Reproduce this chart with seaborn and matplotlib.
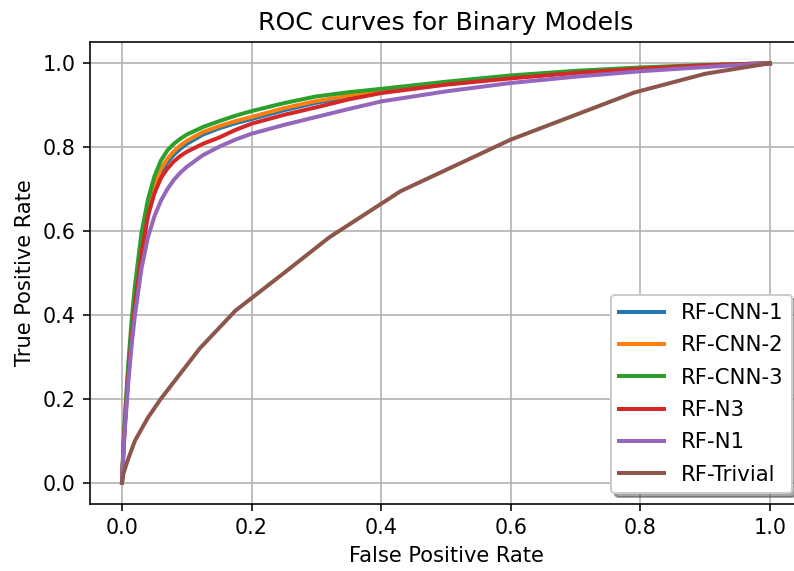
import numpy as np
import pandas as pd
import matplotlib
matplotlib.use("Agg")
import matplotlib.pyplot as plt
import seaborn as sns

models = ["RF-CNN-1", "RF-CNN-2", "RF-CNN-3", "RF-N3", "RF-N1", "RF-Trivial"]

fpr_grid = [0, 0.0025, 0.005, 0.01, 0.015, 0.02, 0.03, 0.04, 0.05, 0.06, 0.07, 0.08,
            0.09, 0.1, 0.125, 0.15, 0.175, 0.2, 0.25, 0.3, 0.35, 0.4, 0.5, 0.6,
            0.7, 0.8, 0.9, 1.0]

tpr_cnn1 = [0, 0.09, 0.155, 0.27, 0.36, 0.44, 0.565, 0.645, 0.70, 0.74, 0.764, 0.782,
            0.796, 0.808, 0.83, 0.845, 0.857, 0.867, 0.888, 0.906, 0.92, 0.932, 0.95,
            0.966, 0.978, 0.988, 0.995, 1.0]
tpr_cnn2 = [0, 0.095, 0.16, 0.275, 0.37, 0.45, 0.575, 0.655, 0.71, 0.748, 0.772, 0.79,
            0.804, 0.815, 0.836, 0.85, 0.862, 0.872, 0.893, 0.91, 0.923, 0.934, 0.952,
            0.967, 0.979, 0.988, 0.995, 1.0]
tpr_cnn3 = [0, 0.10, 0.17, 0.29, 0.39, 0.47, 0.595, 0.675, 0.73, 0.768, 0.792, 0.808,
            0.82, 0.83, 0.848, 0.862, 0.875, 0.886, 0.905, 0.921, 0.931, 0.939, 0.956,
            0.971, 0.982, 0.99, 0.996, 1.0]
tpr_n3 = [0, 0.085, 0.15, 0.26, 0.345, 0.42, 0.545, 0.635, 0.69, 0.726, 0.749, 0.766,
          0.779, 0.789, 0.808, 0.823, 0.841, 0.856, 0.877, 0.895, 0.914, 0.929, 0.949,
          0.964, 0.977, 0.987, 0.995, 1.0]
tpr_n1 = [0, 0.08, 0.14, 0.245, 0.33, 0.40, 0.51, 0.585, 0.635, 0.672, 0.70, 0.722,
          0.739, 0.753, 0.781, 0.801, 0.818, 0.832, 0.853, 0.872, 0.891, 0.909, 0.933,
          0.953, 0.968, 0.981, 0.991, 1.0]

fpr_trivial = [0, 0.002, 0.008, 0.02, 0.04, 0.06, 0.09, 0.12, 0.175, 0.25, 0.32, 0.43,
               0.6, 0.79, 0.9, 1.0]
tpr_trivial = [0, 0.02, 0.05, 0.10, 0.155, 0.20, 0.26, 0.32, 0.41, 0.50, 0.585, 0.695,
               0.818, 0.93, 0.975, 1.0]

x_ticks = [0.0, 0.2, 0.4, 0.6, 0.8, 1.0]
y_ticks = [0.0, 0.2, 0.4, 0.6, 0.8, 1.0]

series = {
    "RF-CNN-1": (fpr_grid, tpr_cnn1),
    "RF-CNN-2": (fpr_grid, tpr_cnn2),
    "RF-CNN-3": (fpr_grid, tpr_cnn3),
    "RF-N3": (fpr_grid, tpr_n3),
    "RF-N1": (fpr_grid, tpr_n1),
    "RF-Trivial": (fpr_trivial, tpr_trivial),
}
rows = []
for m in models:
    xs, ys = series[m]
    for a, b in zip(xs, ys):
        rows.append({"model": m, "fpr": a, "tpr": b})
df = pd.DataFrame(rows)

plt.rcParams["font.family"] = ["DejaVu Sans"]
fig = plt.figure(figsize=(794 / 144, 571 / 144), dpi=144)
ax = fig.add_axes([89.6 / 794, 1 - 503.6 / 571, 712.8 / 794, 461.3 / 571])

palette = sns.color_palette("tab10", 6)
sns.lineplot(data=df, x="fpr", y="tpr", hue="model", hue_order=models,
             palette=palette, sort=False, estimator=None, units="model",
             linewidth=2, ax=ax)

ax.set_xticks(x_ticks)
ax.set_yticks(y_ticks)
ax.set_xlim(-0.05, 1.05)
ax.set_ylim(-0.05, 1.05)
ax.tick_params(labelsize=10.4)
ax.grid(True, color="#b0b0b0", linewidth=0.8)
ax.set_axisbelow(True)
ax.set_xlabel("False Positive Rate", fontsize=10.5)
ax.set_ylabel("True Positive Rate", fontsize=10.5)
ax.set_title("ROC curves for Binary Models", fontsize=12.6)

handles, labels = ax.get_legend_handles_labels()
ax.legend(handles, labels, loc="lower right", shadow=True, fontsize=10.6,
          labelspacing=0.58, handlelength=2.1)

fig.savefig("out.png", dpi=144)
